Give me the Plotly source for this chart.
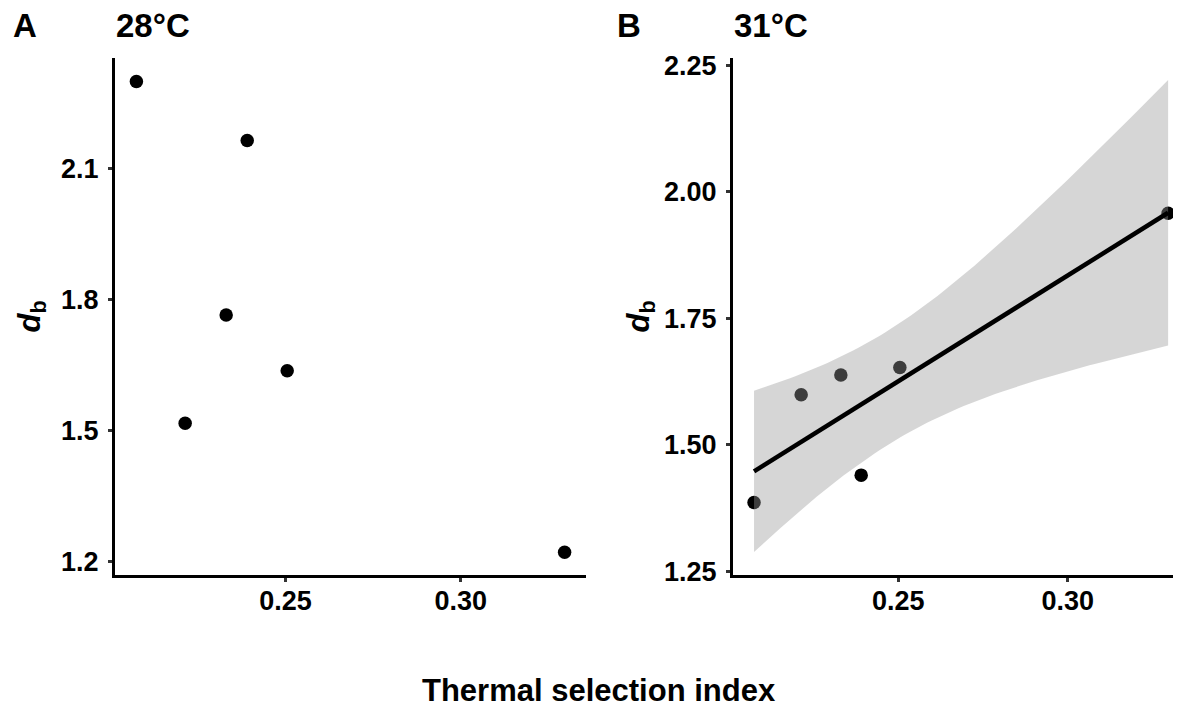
import numpy as np
import plotly.graph_objects as go

# Data
tsi = [0.2075, 0.2214, 0.2331, 0.2391, 0.2505, 0.3296]
db_28 = [2.298, 1.517, 1.764, 2.163, 1.637, 1.222]
db_31 = [1.386, 1.599, 1.638, 1.440, 1.653, 1.958]

x_ticks = [0.25, 0.30]
x_ticklabels = ["0.25", "0.30"]
y28_ticks = [1.2, 1.5, 1.8, 2.1]
y28_ticklabels = ["1.2", "1.5", "1.8", "2.1"]
y31_ticks = [1.25, 1.50, 1.75, 2.00, 2.25]
y31_ticklabels = ["1.25", "1.50", "1.75", "2.00", "2.25"]

# linear fit with 95% CI (like geom_smooth(method = "lm"))
x = np.array(tsi)
y = np.array(db_31)
n = len(x)
slope, intercept = np.polyfit(x, y, 1)
resid = y - (slope * x + intercept)
s = np.sqrt(np.sum(resid ** 2) / (n - 2))
sxx = np.sum((x - x.mean()) ** 2)
t975 = 2.776445  # t quantile, df = 4
xs = np.linspace(x.min(), x.max(), 80)
fit = slope * xs + intercept
se = s * np.sqrt(1 / n + (xs - x.mean()) ** 2 / sxx)
lo = fit - t975 * se
hi = fit + t975 * se

FONT = "Liberation Sans, Arial, sans-serif"

fig = go.Figure()

fig.add_trace(go.Scatter(x=tsi, y=db_28, mode="markers",
                         marker=dict(color="black", size=13.5),
                         xaxis="x", yaxis="y", showlegend=False))

fig.add_trace(go.Scatter(x=tsi, y=db_31, mode="markers",
                         marker=dict(color="black", size=13.5),
                         xaxis="x2", yaxis="y2", showlegend=False))
fig.add_trace(go.Scatter(x=np.concatenate([xs, xs[::-1]]),
                         y=np.concatenate([hi, lo[::-1]]),
                         fill="toself", fillcolor="rgba(153,153,153,0.4)",
                         line=dict(width=0), mode="lines",
                         xaxis="x2", yaxis="y2", showlegend=False,
                         hoverinfo="skip"))
fig.add_trace(go.Scatter(x=xs, y=fit, mode="lines",
                         line=dict(color="black", width=4.5),
                         xaxis="x2", yaxis="y2", showlegend=False))

# page body has an 8px margin; lay out in screenshot pixels
OFF = 8
W, H = 1181 - OFF, 709 - OFF
L, R, T = 115 - OFF, 0, 58 - OFF
B = H - (575 - OFF)
pw = W - L - R
ph = H - T - B

def px(xp):
    return (xp - OFF - L) / pw

def py(yp):
    return (H - B - (yp - OFF)) / ph

axis_common = dict(showline=True, linecolor="black", linewidth=3.2,
                   showgrid=False, zeroline=False, ticks="outside",
                   ticklen=4, tickwidth=3, tickcolor="#333333",
                   automargin=False,
                   tickfont=dict(family=FONT, size=27, color="black", weight="bold"))

fig.update_layout(
    width=W, height=H,
    margin=dict(l=L, r=R, t=T, b=B),
    plot_bgcolor="white", paper_bgcolor="white",
    xaxis=dict(domain=[0, px(586)], range=[0.2014, 0.3357], anchor="y",
               tickvals=x_ticks, ticktext=x_ticklabels,
               ticklabelstandoff=-5, **axis_common),
    yaxis=dict(domain=[0, 1], range=[1.170, 2.3515], anchor="x",
               tickvals=y28_ticks, ticktext=y28_ticklabels,
               ticklabelstandoff=4, **axis_common),
    xaxis2=dict(domain=[px(733), 1], range=[0.2013, 0.3334], anchor="y2",
                tickvals=x_ticks, ticktext=x_ticklabels,
                ticklabelstandoff=-5, **axis_common),
    yaxis2=dict(domain=[0, 1], range=[1.2425, 2.265], anchor="x2",
                tickvals=y31_ticks, ticktext=y31_ticklabels,
                ticklabelstandoff=4, **axis_common),
    showlegend=False,
)

ann_font = dict(family=FONT, size=33, color="black", weight="bold")
anns = [
    dict(text="A", x=px(11), y=py(25), xanchor="left", yanchor="middle"),
    dict(text="28°C", x=px(114), y=py(25), xanchor="left", yanchor="middle"),
    dict(text="B", x=px(615), y=py(25), xanchor="left", yanchor="middle"),
    dict(text="31°C", x=px(732), y=py(25), xanchor="left", yanchor="middle"),
]
for a in anns:
    fig.add_annotation(xref="paper", yref="paper", showarrow=False,
                       font=ann_font, **a)

fig.add_annotation(text="Thermal selection index", xref="paper", yref="paper",
                   x=px(599), y=py(690), xanchor="center", yanchor="middle",
                   showarrow=False,
                   font=dict(family=FONT, size=31, color="black", weight="bold"))

for xx in [31, 640]:
    fig.add_annotation(text="<i>d</i><sub>b</sub>", xref="paper", yref="paper",
                       x=px(xx), y=0.5, xanchor="center", yanchor="middle",
                       textangle=-90, showarrow=False,
                       font=dict(family=FONT, size=31, color="black", weight="bold"))

fig.write_html("out.html")
